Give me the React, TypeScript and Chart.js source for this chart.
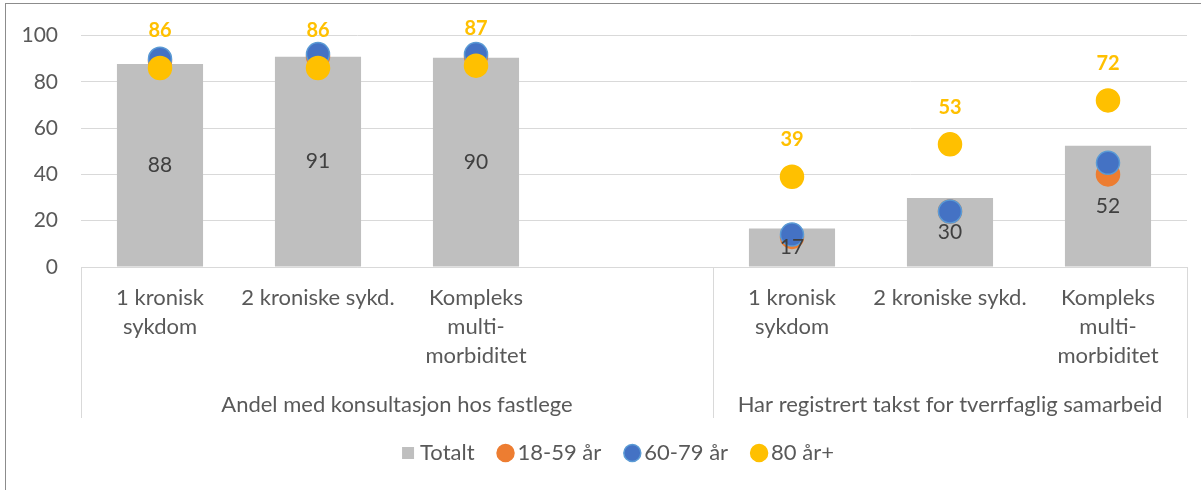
import React, { useEffect, useRef } from 'react';
import { Chart, registerables } from 'chart.js';

Chart.register(...registerables);

const categories: (string | string[])[] = [
  ['1 kronisk', 'sykdom'],
  '2 kroniske sykd.',
  ['Kompleks', 'multi-', 'morbiditet'],
  '',
  ['1 kronisk', 'sykdom'],
  '2 kroniske sykd.',
  ['Kompleks', 'multi-', 'morbiditet'],
];
const groupLabels = ['Andel med konsultasjon hos fastlege', 'Har registrert takst for tverrfaglig samarbeid'];
const groupSizes = [4, 3];

const seriesNames = ['Totalt', '18-59 år', '60-79 år', '80 år+'];
const totalt = [87.7, 90.9, 90.4, null, 16.6, 29.8, 52.4];
const age18to59 = [89, 91, 91, null, 13, 24, 40];
const age60to79 = [90, 92, 92, null, 14, 24, 45];
const age80plus = [86, 86, 87, null, 39, 53, 72];

const yMin = 0;
const yMax = 100;
const yStep = 20;

const FONT = 'Lato, "Noto Sans", sans-serif';
const TEXT = '#595959';
const GRID = '#D9D9D9';

const overlayPlugin = {
  id: 'overlay',
  afterLayout(chart: any) {
    const lg = chart.legend;
    if (lg) {
      lg.left += 27;
      lg.right += 27;
    }
  },
  afterDatasetsDraw(chart: any) {
    const { ctx } = chart;
    ctx.save();
    ctx.textAlign = 'center';
    ctx.textBaseline = 'middle';
    ctx.font = `21px ${FONT}`;
    ctx.fillStyle = '#404040';
    chart.getDatasetMeta(0).data.forEach((el: any, i: number) => {
      const v = totalt[i];
      if (v == null) return;
      const p = el.getProps(['x', 'y', 'base'], true);
      ctx.fillText(String(Math.round(v)), p.x, (p.y + p.base) / 2);
    });
    ctx.font = `bold 20px ${FONT}`;
    ctx.fillStyle = '#FFC000';
    chart.getDatasetMeta(3).data.forEach((el: any, i: number) => {
      const v = age80plus[i];
      if (v == null) return;
      ctx.fillText(String(Math.round(v)), el.x, el.y - 37);
    });
    ctx.restore();
  },
  afterDraw(chart: any) {
    const { ctx, chartArea } = chart;
    const xScale = chart.scales.x;
    const bottom = chartArea.bottom + 151;
    ctx.save();
    const edges: number[] = [chartArea.left];
    let idx = 0;
    groupSizes.forEach((n, g) => {
      idx += n;
      if (g < groupSizes.length - 1) {
        edges.push((xScale.getPixelForValue(idx - 1) + xScale.getPixelForValue(idx)) / 2);
      }
    });
    edges.push(chartArea.right);
    ctx.strokeStyle = GRID;
    ctx.lineWidth = 1;
    edges.forEach((x) => {
      const xx = Math.round(x) + 0.5;
      ctx.beginPath();
      ctx.moveTo(xx, chartArea.bottom);
      ctx.lineTo(xx, bottom);
      ctx.stroke();
    });
    ctx.font = `22px ${FONT}`;
    ctx.fillStyle = TEXT;
    ctx.textAlign = 'center';
    ctx.textBaseline = 'middle';
    groupLabels.forEach((lab, g) => {
      ctx.fillText(lab, (edges[g] + edges[g + 1]) / 2, chartArea.bottom + 138);
    });
    ctx.restore();
  },
};

export default function App() {
  const ref = useRef<HTMLCanvasElement>(null);
  useEffect(() => {
    if (!ref.current) return;
    const pointDs = (label: string, data: (number | null)[], bg: string, border: string, order: number) => ({
      type: 'line' as const,
      label,
      data,
      showLine: false,
      backgroundColor: bg,
      borderColor: border,
      borderWidth: 1.5,
      pointRadius: 11.5,
      pointHoverRadius: 11.5,
      pointBorderWidth: 1.5,
      pointStyle: 'circle',
      order,
    });
    const chart = new Chart(ref.current, {
      type: 'bar',
      data: {
        labels: categories,
        datasets: [
          {
            type: 'bar',
            label: seriesNames[0],
            data: totalt,
            backgroundColor: '#BFBFBF',
            borderWidth: 0,
            barPercentage: 0.545,
            categoryPercentage: 1,
            pointStyle: 'rect',
            order: 4,
          } as any,
          pointDs(seriesNames[1], age18to59, '#ED7D31', '#ED7D31', 3),
          pointDs(seriesNames[2], age60to79, '#4472C4', '#5B9BD5', 2),
          pointDs(seriesNames[3], age80plus, '#FFC000', '#FFC000', 1),
        ],
      },
      options: {
        animation: false,
        responsive: false,
        layout: { padding: { left: 0, right: 14, top: 31, bottom: 16 } },
        plugins: {
          tooltip: { enabled: false },
          legend: {
            position: 'bottom',
            labels: {
              usePointStyle: true,
              boxWidth: 2,
              boxHeight: 12,
              padding: 30,
              color: TEXT,
              font: { family: FONT, size: 22 },
              sort: (a: any, b: any) => a.datasetIndex - b.datasetIndex,
            },
          },
        },
        scales: {
          x: {
            grid: { display: false, drawTicks: false },
            border: { display: true, color: GRID, width: 1 },
            ticks: {
              color: TEXT,
              padding: 17,
              maxRotation: 0,
              autoSkip: false,
              font: { family: FONT, size: 22, lineHeight: 1.3 },
            },
            afterFit: (s: any) => {
              s.height = 145;
            },
          },
          y: {
            min: yMin,
            max: yMax,
            ticks: {
              stepSize: yStep,
              color: TEXT,
              padding: 23,
              font: { family: FONT, size: 21 },
            },
            grid: { color: GRID, drawTicks: false },
            border: { display: false },
            afterFit: (s: any) => {
              s.width = 81;
            },
          },
        },
      },
      plugins: [overlayPlugin],
    } as any);
    return () => chart.destroy();
  }, []);

  return (
    <div style={{ position: 'fixed', left: 0, top: 0, width: 1201, height: 490, overflow: 'hidden', background: '#fff' }}>
      <div
        style={{
          position: 'absolute',
          left: 5,
          top: 3,
          width: 1220,
          height: 520,
          border: '1px solid #8C8C8C',
          boxSizing: 'border-box',
        }}
      />
      <canvas ref={ref} width={1201} height={490} style={{ position: 'absolute', left: 0, top: 0, width: 1201, height: 490 }} />
    </div>
  );
}
